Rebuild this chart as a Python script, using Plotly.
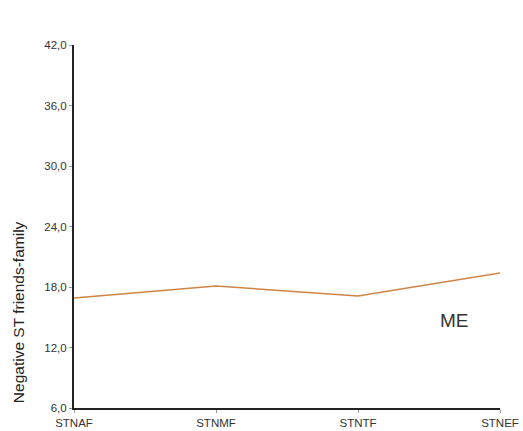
import plotly.graph_objects as go

categories = ["STNAF", "STNMF", "STNTF", "STNEF"]
me_values = [16.9, 18.1, 17.1, 19.4]
y_ticks = [6, 12, 18, 24, 30, 36, 42]
y_tick_labels = ["6,0", "12,0", "18,0", "24,0", "30,0", "36,0", "42,0"]

x_pos = list(range(len(categories)))

fig = go.Figure()
fig.add_trace(go.Scatter(
    x=x_pos, y=me_values, mode="lines",
    line=dict(color="#cf8444", width=1.5),
    showlegend=False, hoverinfo="skip"
))

fig.add_annotation(x=2.683, y=14.7, xref="x", yref="y", text="ME",
                   showarrow=False, xanchor="center", yanchor="middle",
                   font=dict(size=19, color="#333333", family="Liberation Sans, Arial"))

# y-axis title placed as rotated annotation
fig.add_annotation(x=-0.1315, y=0.264, xref="paper", yref="paper", text="Negative ST friends-family",
                   textangle=-90, showarrow=False, xanchor="center", yanchor="middle",
                   font=dict(size=15.5, color="#222222", family="Liberation Sans, Arial"))

fig.update_layout(
    width=523, height=431,
    margin=dict(l=74, r=23, t=45, b=23, autoexpand=False),
    paper_bgcolor="white", plot_bgcolor="white",
    font=dict(family="Liberation Sans, Arial", color="#333333"),
    xaxis=dict(
        range=[0, 3], tickvals=x_pos, ticktext=categories, automargin=False,
        showgrid=False, zeroline=False, showline=True, linecolor="#222222", linewidth=2,
        ticks="outside", ticklen=3, tickcolor="#999999", tickfont=dict(size=11.5, color="#333333"),
    ),
    yaxis=dict(
        range=[6, 42], tickvals=y_ticks, ticktext=y_tick_labels, automargin=False,
        showgrid=False, zeroline=False, showline=True, linecolor="#222222", linewidth=2,
        ticks="outside", ticklen=3, tickcolor="#999999", tickfont=dict(size=11.5, color="#333333"),
    ),
)

fig.write_html("out.html", config={"displayModeBar": False},
               post_script="document.body.style.margin='0';document.body.style.overflow='hidden';")
